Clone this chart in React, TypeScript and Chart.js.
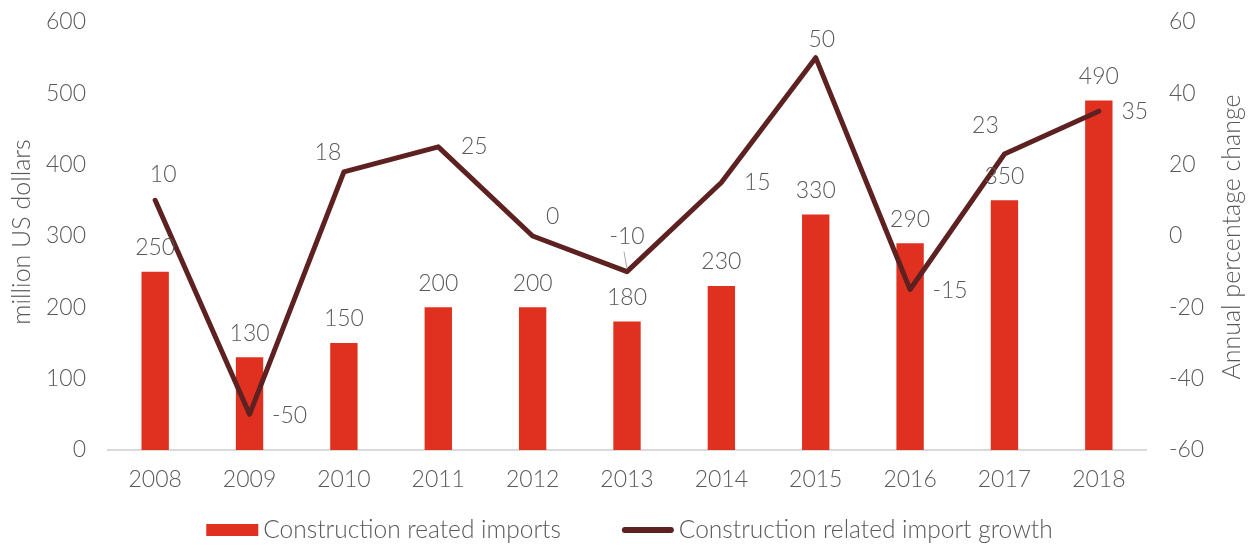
import React, { useEffect, useRef } from "react";
import { Chart, registerables } from "chart.js";

Chart.register(...registerables);

const years = ["2008", "2009", "2010", "2011", "2012", "2013", "2014", "2015", "2016", "2017", "2018"];
const importsValues = [250, 130, 150, 200, 200, 180, 230, 330, 290, 350, 490];
const growthValues = [10, -50, 18, 25, 0, -10, 15, 50, -15, 23, 35];
const growthLabelAnchor = ["top", "right-far", "top-left", "right", "top-right", "top-leader", "right", "top-high", "right-far", "top-left-high", "right"];
const leftTicks = [0, 100, 200, 300, 400, 500, 600];
const rightTicks = [-60, -40, -20, 0, 20, 40, 60];

const barLabel = "Construction reated imports";
const lineLabel = "Construction related import growth";
const leftTitle = "million US dollars";
const rightTitle = "Annual percentage change";

const FONT = "Lato";
const GREY = "#595959";
const RED = "#e03120";
const MAROON = "#5c2120";

const anchorOffsets: Record<string, [number, number]> = {
  top: [8, -26],
  "right-far": [40, 1],
  "top-left": [-16, -19],
  right: [36, 0],
  "top-right": [20, -19],
  "top-leader": [0, -35],
  "top-high": [6, -18],
  "top-left-high": [-19, -28],
};

const labelsPlugin = {
  id: "labelsPlugin",
  afterDatasetsDraw(chart: any) {
    const ctx = chart.ctx;
    ctx.save();
    ctx.font = `300 23px ${FONT}`;
    ctx.fillStyle = GREY;
    ctx.textAlign = "center";
    ctx.textBaseline = "middle";
    const barMeta = chart.getDatasetMeta(0);
    barMeta.data.forEach((el: any, i: number) => {
      ctx.fillText(String(importsValues[i]), el.x, el.y - 24);
    });
    const lineMeta = chart.getDatasetMeta(1);
    lineMeta.data.forEach((el: any, i: number) => {
      const a = growthLabelAnchor[i];
      const off = anchorOffsets[a] || [0, -26];
      const tx = el.x + off[0];
      const ty = el.y + off[1];
      ctx.fillText(String(growthValues[i]), tx, ty);
      if (a === "top-leader") {
        ctx.strokeStyle = "#a6a6a6";
        ctx.lineWidth = 1;
        ctx.beginPath();
        ctx.moveTo(el.x - 3, ty + 15);
        ctx.lineTo(el.x, el.y - 3);
        ctx.stroke();
      }
    });
    ctx.restore();
  },
};

const titlesPlugin = {
  id: "axisTitles",
  afterDraw(chart: any) {
    const ctx = chart.ctx;
    const area = chart.chartArea;
    ctx.save();
    ctx.font = `300 25px ${FONT}`;
    ctx.fillStyle = GREY;
    ctx.textAlign = "center";
    ctx.textBaseline = "middle";
    ctx.translate(22, 232);
    ctx.rotate(-Math.PI / 2);
    ctx.fillText(leftTitle, 0, 0);
    ctx.restore();
    ctx.save();
    ctx.font = `300 25px ${FONT}`;
    ctx.fillStyle = GREY;
    ctx.textAlign = "center";
    ctx.textBaseline = "middle";
    ctx.translate(area.right + 86, 237);
    ctx.rotate(-Math.PI / 2);
    ctx.fillText(rightTitle, 0, 0);
    ctx.restore();
  },
};

const legendPlugin = {
  id: "customLegend",
  afterDraw(chart: any) {
    const ctx = chart.ctx;
    ctx.save();
    ctx.font = `300 24.5px ${FONT}`;
    ctx.textBaseline = "middle";
    ctx.textAlign = "left";
    const y = 530;
    const boxW = 52;
    const gapBoxText = 5;
    const gapItems = 61;
    const w1 = ctx.measureText(barLabel).width;
    const w2 = ctx.measureText(lineLabel).width;
    const total = boxW + gapBoxText + w1 + gapItems + boxW + gapBoxText + w2;
    let x = 629.5 - total / 2;
    ctx.fillStyle = RED;
    ctx.fillRect(x, y - 6, boxW, 12);
    x += boxW + gapBoxText;
    ctx.fillStyle = GREY;
    ctx.fillText(barLabel, x, y);
    x += w1 + gapItems;
    ctx.strokeStyle = MAROON;
    ctx.lineWidth = 6;
    ctx.lineCap = "round";
    ctx.beginPath();
    ctx.moveTo(x + 3, y);
    ctx.lineTo(x + boxW - 3, y);
    ctx.stroke();
    x += boxW + gapBoxText;
    ctx.fillStyle = GREY;
    ctx.fillText(lineLabel, x, y);
    ctx.restore();
  },
};

const tickFont = { family: FONT, size: 23, weight: 300 } as any;

export default function App() {
  const ref = useRef<HTMLCanvasElement>(null);
  useEffect(() => {
    document.body.style.margin = "0";
    const chart = new Chart(ref.current!, {
      type: "bar",
      data: {
        labels: years,
        datasets: [
          {
            type: "bar",
            label: barLabel,
            data: importsValues,
            backgroundColor: RED,
            yAxisID: "y",
            barPercentage: 0.29,
            categoryPercentage: 1,
            order: 1,
          },
          {
            type: "line",
            label: lineLabel,
            data: growthValues,
            borderColor: MAROON,
            borderWidth: 5,
            pointRadius: 0,
            tension: 0,
            yAxisID: "y1",
            order: 0,
            borderCapStyle: "round",
            borderJoinStyle: "round",
          } as any,
        ],
      },
      options: {
        animation: false,
        responsive: false,
        layout: { padding: { top: 22, bottom: 0, left: 0, right: 0 } },
        plugins: {
          legend: { display: false },
          tooltip: { enabled: false },
        },
        scales: {
          x: {
            grid: { display: false, drawTicks: false },
            border: { color: "#d9d9d9", width: 2 },
            ticks: { color: GREY, font: tickFont, padding: 16 },
            afterFit(s: any) {
              s.height = 96;
            },
          },
          y: {
            position: "left",
            min: 0,
            max: 600,
            afterBuildTicks(s: any) {
              s.ticks = leftTicks.map((v) => ({ value: v }));
            },
            grid: { display: false, drawTicks: false },
            border: { display: false },
            ticks: { color: GREY, font: tickFont, padding: 22 },
            afterFit(s: any) {
              s.width = 108;
              s.paddingTop = 0;
              s.paddingBottom = 0;
            },
          },
          y1: {
            position: "right",
            min: -60,
            max: 60,
            afterBuildTicks(s: any) {
              s.ticks = rightTicks.map((v) => ({ value: v }));
            },
            grid: { display: false, drawTicks: false },
            border: { display: false },
            ticks: { color: GREY, font: tickFont, padding: 23 },
            afterFit(s: any) {
              s.width = 107;
              s.paddingTop = 0;
              s.paddingBottom = 0;
            },
          },
        },
      },
      plugins: [labelsPlugin, titlesPlugin, legendPlugin],
    });
    return () => chart.destroy();
  }, []);
  return (
    <div style={{ position: "absolute", left: 0, top: 0, width: 1253, height: 546 }}>
      <canvas ref={ref} width={1253} height={546} style={{ width: 1253, height: 546 }} />
    </div>
  );
}
